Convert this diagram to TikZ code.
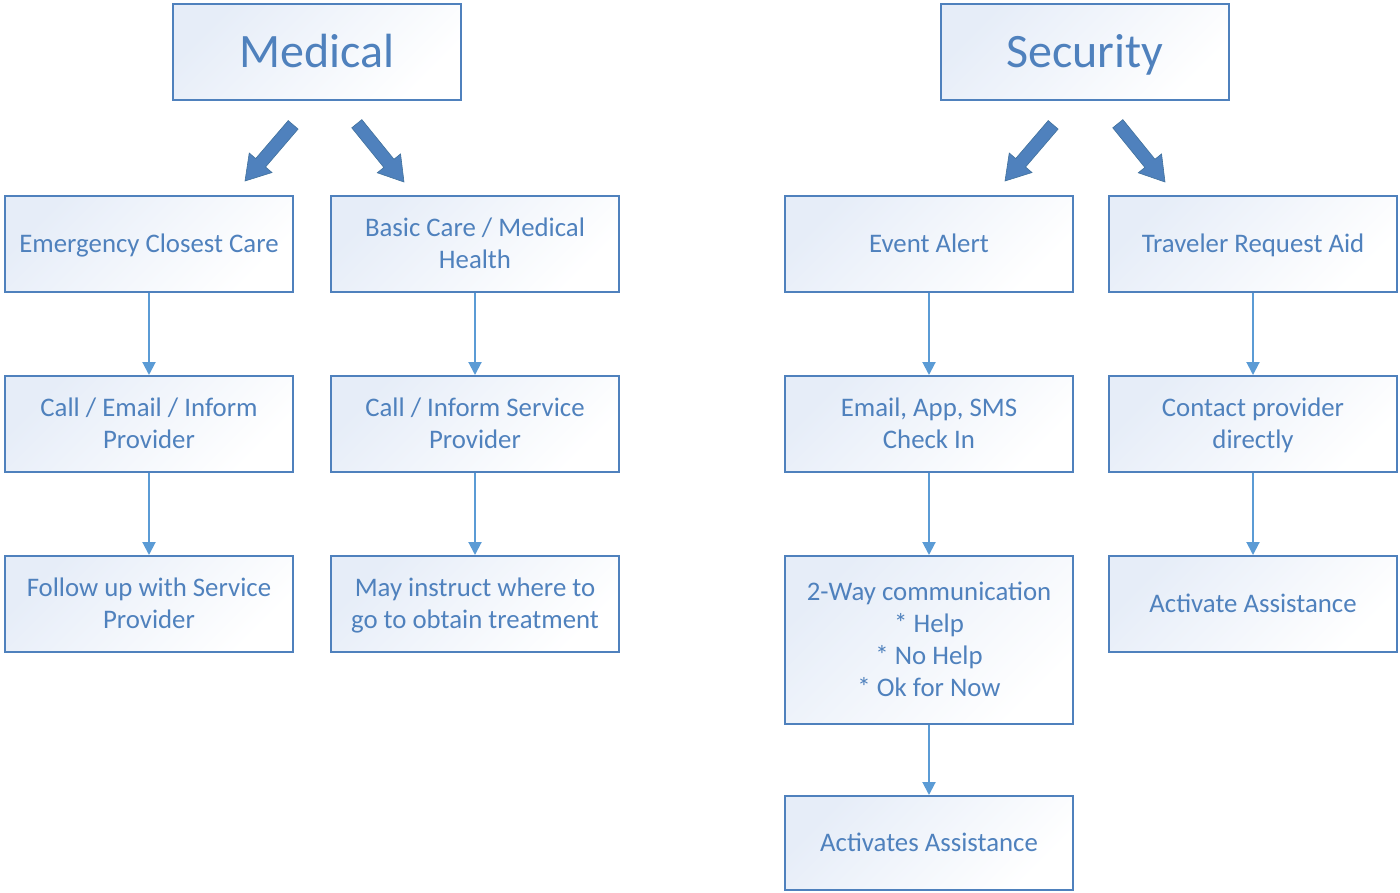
\documentclass[tikz,border=0pt]{standalone}
\usepackage{fontspec}
\setmainfont{Carlito}
\usetikzlibrary{arrows.meta}
\definecolor{boxline}{RGB}{79,129,189}
\definecolor{boxtext}{RGB}{79,129,189}
\definecolor{boxfill}{RGB}{230,237,248}
\definecolor{conn}{RGB}{91,155,213}
\definecolor{barrow}{RGB}{79,129,189}
\definecolor{barrowedge}{RGB}{65,113,156}
\newcommand{\topstrut}{\rule{0pt}{25pt}}
\newcommand{\botstrut}{\rule[-7.6pt]{0pt}{7.6pt}}
\tikzset{
  box/.style={draw=boxline, line width=2pt, top color=boxfill, bottom color=white, shading angle=45,
    minimum width=288pt, minimum height=96pt, inner sep=0pt, align=center, text=boxtext,
    font=\fontsize{26.8}{32}\selectfont},
  titlebox/.style={box, font=\fontsize{48}{54}\selectfont},
  tallbox/.style={box, minimum height=168pt},
  conn/.style={draw=conn, line width=2pt, -{Triangle[length=13pt,width=13pt]}},
  blockarrow/.style={fill=barrow, draw=barrowedge, line width=0.6pt, line join=miter}
}
\newcommand{\blockarr}[4]{% tip x, tip y, angle, length
  \begin{scope}[shift={(#1,#2)}, rotate=#3]
    \path[blockarrow] (0,0) -- (-24,15) -- (-24,6.5) -- (-#4,6.5) -- (-#4,-6.5) -- (-24,-6.5) -- (-24,-15) -- cycle;
  \end{scope}}
\begin{document}
\begin{tikzpicture}[x=1pt,y=-1pt]
\useasboundingbox (0,0) rectangle (1400,892);
% titles
\node[titlebox] (med) at (317,52) {\rule{0pt}{44pt}Medical\rule[-13pt]{0pt}{13pt}};
\node[titlebox] (sec) at (1085,52) {\rule{0pt}{44pt}Security\rule[-13pt]{0pt}{13pt}};
% medical column 1
\node[box] (m11) at (149,244) {\topstrut Emergency Closest Care\botstrut};
\node[box] (m12) at (149,424) {\topstrut Call / Email / Inform\\Provider\botstrut};
\node[box] (m13) at (149,604) {\topstrut Follow up with Service\\Provider\botstrut};
% medical column 2
\node[box] (m21) at (475,244) {\topstrut Basic Care / Medical\\Health\botstrut};
\node[box] (m22) at (475,424) {\topstrut Call / Inform Service\\Provider\botstrut};
\node[box] (m23) at (475,604) {\topstrut May instruct where to\\go to obtain treatment\botstrut};
% security column 1
\node[box] (s11) at (929,244) {\topstrut Event Alert\botstrut};
\node[box] (s12) at (929,424) {\topstrut Email, App, SMS\\Check In\botstrut};
\node[tallbox] (s13) at (929,640) {\topstrut 2-Way communication\\* Help\\* No Help\\* Ok for Now\botstrut};
\node[box, minimum height=94pt] (s14) at (929,843) {\topstrut Activates Assistance\botstrut};
% security column 2
\node[box] (s21) at (1253,244) {\topstrut Traveler Request Aid\botstrut};
\node[box] (s22) at (1253,424) {\topstrut Contact provider\\directly\botstrut};
\node[box] (s23) at (1253,604) {\topstrut Activate Assistance\botstrut};
% connectors
\draw[conn] (m11) -- (m12);
\draw[conn] (m12) -- (m13);
\draw[conn] (m21) -- (m22);
\draw[conn] (m22) -- (m23);
\draw[conn] (s11) -- (s12);
\draw[conn] (s12) -- (s13);
\draw[conn] (s13) -- (s14);
\draw[conn] (s21) -- (s22);
\draw[conn] (s22) -- (s23);
% block arrows
\blockarr{245}{181}{229.4}{74}
\blockarr{404}{182}{309}{75}
\blockarr{1005}{181}{229.4}{74}
\blockarr{1165}{182}{309}{75}
\end{tikzpicture}
\end{document}
